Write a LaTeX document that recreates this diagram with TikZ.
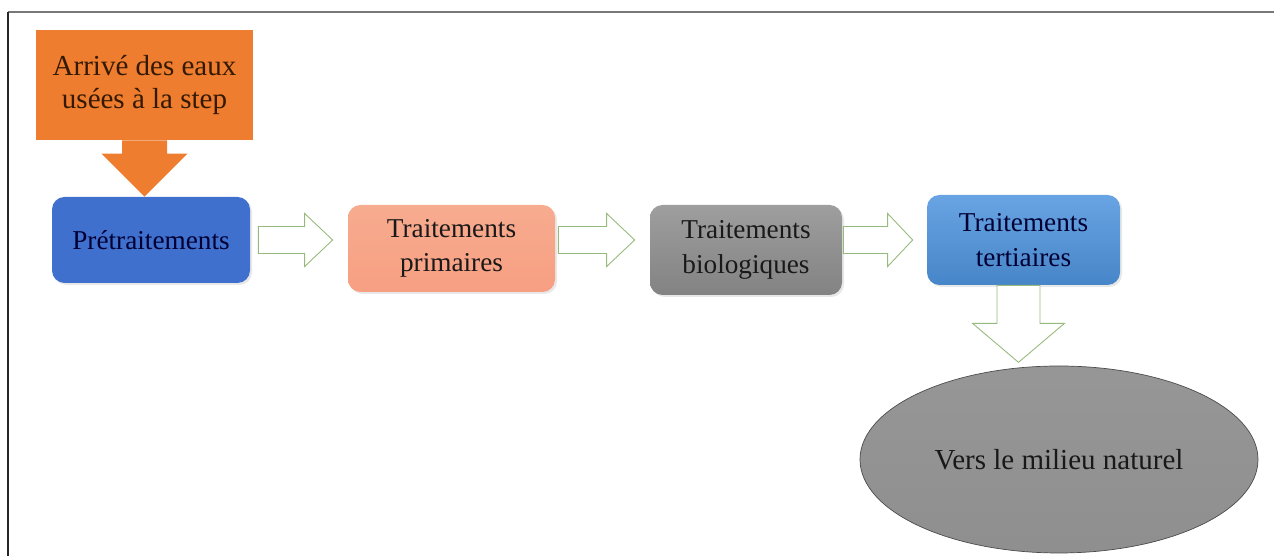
\documentclass[tikz,border=0pt]{standalone}
\usepackage{fontspec}
\setmainfont{Liberation Serif}
\usepackage{tikz}
\usetikzlibrary{shapes.geometric,calc,positioning,shadows}
\definecolor{orangestep}{RGB}{238,125,48}
\definecolor{bluepre}{RGB}{64,112,206}
\definecolor{salmon}{RGB}{247,167,137}
\definecolor{graybio}{RGB}{145,145,145}
\definecolor{bluetert}{RGB}{78,148,222}
\definecolor{greenline}{RGB}{150,185,125}
\definecolor{framegray}{RGB}{120,120,120}

% block arrow: style, from, to, shaft half width, head half width, head length
\newcommand{\blockarrow}[6]{%
  \path ($(#3)!#6!(#2)$) coordinate (hb);
  \draw[#1] ($(#2)!#4!90:(#3)$) -- ($(hb)!#4!90:(#3)$) -- ($(hb)!#5!90:(#3)$)
    -- (#3) -- ($(hb)!#5!-90:(#3)$) -- ($(hb)!#4!-90:(#3)$)
    -- ($(#2)!#4!-90:(#3)$) -- cycle;
}

\tikzset{
  stage/.style={rounded corners=0.25cm, inner sep=2pt, align=center,
    text=black!90, font=\fontsize{15.5}{19.5}\selectfont,
    drop shadow={opacity=0.18, shadow xshift=0.04cm, shadow yshift=-0.04cm}},
  hollow/.style={draw=greenline, fill=white, line width=0.5pt},
}

\begin{document}
\begin{tikzpicture}
  \useasboundingbox (0,0) rectangle (25.48,11.12);
  % frame
  \draw[framegray, line width=1.1pt] (0.16,10.88) -- (25.48,10.88);
  \draw[black!85, line width=1.1pt] (0.16,10.88) -- (0.16,0);

  % stages
  \node[fill=orangestep, minimum width=4.34cm, minimum height=2.2cm, align=center,
    text=black!80!orange, font=\fontsize{16.5}{18.5}\selectfont] (arr) at (2.89,9.42)
    {Arrivé des eaux\\usées à la step};
  \node[stage, fill=bluepre, minimum width=3.96cm, minimum height=1.72cm,
    text=black!80!blue] (pre) at (3.02,6.32) {Prétraitements};
  \node[stage, top color=salmon!95!white, bottom color=salmon!95!red, minimum width=4.14cm,
    minimum height=1.74cm] (prim) at (9.03,6.15) {Traitements\\primaires};
  \node[stage, top color=graybio!88!white, bottom color=graybio!90!black, minimum width=3.84cm,
    minimum height=1.8cm] (bio) at (14.92,6.12) {Traitements\\biologiques};
  \node[stage, top color=bluetert!85!white, bottom color=bluetert!90!black,
    minimum width=3.86cm, minimum height=1.8cm, text=black!80!blue] (tert) at (20.47,6.32)
    {Traitements\\tertiaires};
  \node[ellipse, draw=black!70, line width=0.4pt, top color=gray!82, bottom color=gray!88,
    minimum width=7.96cm, minimum height=3.74cm, font=\fontsize{16.5}{19}\selectfont,
    text=black!90] (milieu) at (21.18,1.93) {Vers le milieu naturel};

  % arrival arrow
  \blockarrow{fill=orangestep, draw=none}{arr.south}{pre.north -| arr.south}{0.45cm}{0.86cm}{0.86cm}
  % flow arrows
  \blockarrow{hollow}{$(pre.east)+(0.16,0)$}{$(prim.west |- pre)+(-0.3,0)$}{0.27cm}{0.53cm}{0.56cm}
  \blockarrow{hollow}{$(prim.east |- pre)+(0.06,0)$}{$(bio.west |- pre)+(-0.3,0)$}{0.27cm}{0.53cm}{0.56cm}
  \blockarrow{hollow}{$(bio.east |- pre)+(0.02,0)$}{$(tert.west |- pre)+(-0.28,0)$}{0.27cm}{0.53cm}{0.5cm}
  \blockarrow{hollow}{$(tert.south)+(-0.1,0)$}{$(tert.south)+(-0.1,-1.54)$}{0.43cm}{0.92cm}{0.78cm}
\end{tikzpicture}
\end{document}
